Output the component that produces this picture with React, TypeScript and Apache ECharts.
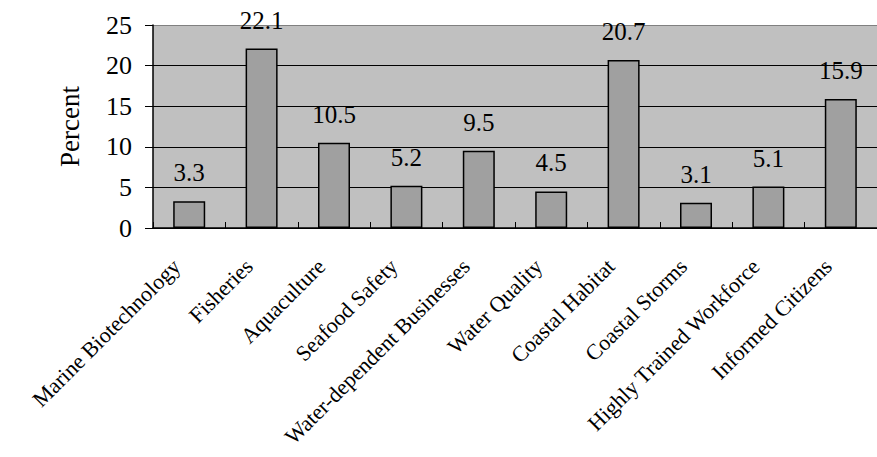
import React, { useEffect, useRef } from "react";
import * as echarts from "echarts";

const categories = [
  "Marine Biotechnology",
  "Fisheries",
  "Aquaculture",
  "Seafood Safety",
  "Water-dependent Businesses",
  "Water Quality",
  "Coastal Habitat",
  "Coastal Storms",
  "Highly Trained Workforce",
  "Informed Citizens",
];
const percentValues = [3.3, 22.1, 10.5, 5.2, 9.5, 4.5, 20.7, 3.1, 5.1, 15.9];
const yTicks = [0, 5, 10, 15, 20, 25];
const yAxisTitle = "Percent";

const FONT = "Liberation Serif";

export default function App() {
  const ref = useRef<HTMLDivElement>(null);
  useEffect(() => {
    if (!ref.current) return;
    const chart = echarts.init(ref.current, null, { renderer: "svg" });
    chart.setOption({
      animation: false,
      backgroundColor: "#ffffff",
      grid: {
        left: 153,
        top: 25,
        width: 732,
        height: 203,
        show: true,
        backgroundColor: "#c0c0c0",
        borderWidth: 0,
      },
      xAxis: {
        type: "category",
        data: categories,
        axisLine: { show: true, lineStyle: { color: "#000", width: 1.5 } },
        axisTick: { show: true, inside: true, length: 6, lineStyle: { color: "#000" } },
        axisLabel: {
          rotate: 45,
          interval: 0,
          margin: 22,
          padding: [0, 18, 0, 0],
          fontFamily: FONT,
          fontSize: 22,
          color: "#000",
        },
      },
      yAxis: {
        type: "value",
        min: yTicks[0],
        max: yTicks[yTicks.length - 1],
        interval: 5,
        name: yAxisTitle,
        nameLocation: "middle",
        nameGap: 70,
        nameTextStyle: { fontFamily: FONT, fontSize: 27, color: "#000" },
        axisLine: { show: true, lineStyle: { color: "#000", width: 1.5 } },
        axisTick: { show: true, length: 8, lineStyle: { color: "#000" } },
        axisLabel: {
          margin: 21,
          fontFamily: FONT,
          fontSize: 26,
          color: "#000",
        },
        splitLine: {
          show: true,
          lineStyle: {
            color: ["#000", "#000", "#000", "#000", "#000", "#808080"],
            width: 1,
          },
        },
      },
      series: [
        {
          type: "bar",
          data: percentValues,
          barWidth: 32,
          itemStyle: { color: "#a0a0a0", borderColor: "#000", borderWidth: 1.5 },
          label: {
            show: true,
            position: "top",
            distance: 16,
            fontFamily: FONT,
            fontSize: 25,
            color: "#000",
          },
        },
      ],
    });
    return () => chart.dispose();
  }, []);
  return <div ref={ref} style={{ width: 877, height: 457, position: "absolute", left: 0, top: 0 }} />;
}
